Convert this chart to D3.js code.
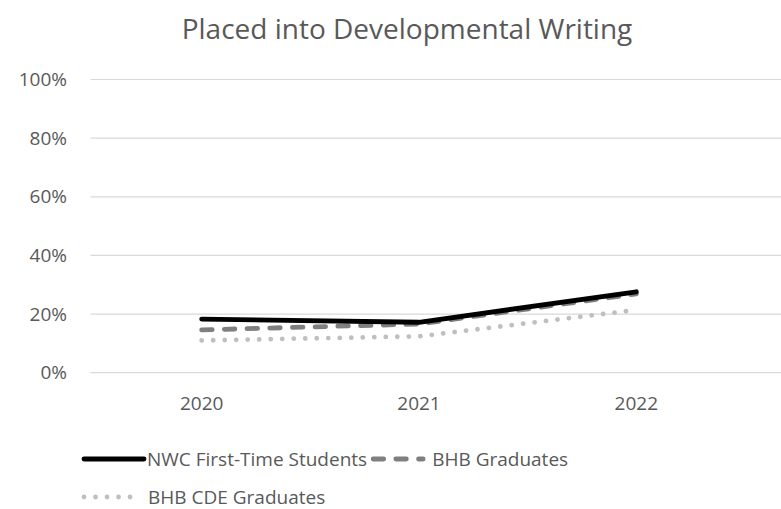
<!DOCTYPE html>
<html>
<head>
<meta charset="utf-8">
<script src="https://cdn.jsdelivr.net/npm/d3@7"></script>
<style>
  html, body { margin: 0; padding: 0; background: #fff; }
  svg { display: block; font-family: "Open Sans", sans-serif; }
</style>
</head>
<body>
<svg id="chart" width="781" height="509"></svg>
<script>
// Chart data
const years = ["2020", "2021", "2022"];
const nwcFirstTime = [0.183, 0.172, 0.276];
const bhbGraduates = [0.146, 0.166, 0.269];
const bhbCdeGraduates = [0.110, 0.124, 0.214];
const yTicks = [0, 0.2, 0.4, 0.6, 0.8, 1.0];
const seriesNames = ["NWC First-Time Students", "BHB Graduates", "BHB CDE Graduates"];
const title = "Placed into Developmental Writing";

const textColor = "#595959";
const styles = [
  { color: "#000000", dash: null },
  { color: "#7f7f7f", dash: "10.5,12.2" },
  { color: "#bfbfbf", dash: "0.01,11.5" }
];
const series = [nwcFirstTime, bhbGraduates, bhbCdeGraduates];

const svg = d3.select("#chart");
const W = 781;

const x = d3.scaleBand().domain(years).range([93, 745]);
const xc = d => x(d) + x.bandwidth() / 2;
const y = d3.scaleLinear().domain([0, 1]).range([372.7, 79.5]);

// Title
svg.append("text")
  .attr("x", 407).attr("y", 39)
  .attr("text-anchor", "middle")
  .attr("fill", textColor)
  .style("font-size", "28px")
  .text(title);

// Gridlines
svg.append("g").selectAll("line")
  .data(yTicks)
  .join("line")
  .attr("x1", 90.5).attr("x2", W)
  .attr("y1", d => y(d)).attr("y2", d => y(d))
  .attr("stroke", "#d9d9d9")
  .attr("stroke-width", 1.2);

// Y axis labels
svg.append("g").selectAll("text")
  .data(yTicks)
  .join("text")
  .attr("x", 67)
  .attr("y", d => y(d))
  .attr("dy", "0.35em")
  .attr("text-anchor", "end")
  .attr("fill", textColor)
  .style("font-size", "19px")
  .text(d3.format(".0%"));

// X axis labels
svg.append("g").selectAll("text")
  .data(years)
  .join("text")
  .attr("x", xc)
  .attr("y", 403)
  .attr("dy", "0.35em")
  .attr("text-anchor", "middle")
  .attr("fill", textColor)
  .style("font-size", "19px")
  .text(d => d);

// Lines (lightest drawn first so the black line sits on top)
const line = d3.line().x((d, i) => xc(years[i])).y(d => y(d));
const order = [2, 1, 0];
svg.append("g").selectAll("path")
  .data(order)
  .join("path")
  .attr("d", k => line(series[k]))
  .attr("fill", "none")
  .attr("stroke", k => styles[k].color)
  .attr("stroke-width", 4.8)
  .attr("stroke-dasharray", k => styles[k].dash)
  .attr("stroke-linecap", "round")
  .attr("stroke-linejoin", "round");

// Legend
const legend = svg.append("g");
function legendItem(k, x0, yy, sampleLen, gap) {
  legend.append("line")
    .attr("x1", x0).attr("x2", x0 + sampleLen)
    .attr("y1", yy).attr("y2", yy)
    .attr("stroke", styles[k].color)
    .attr("stroke-width", 4.8)
    .attr("stroke-dasharray", styles[k].dash)
    .attr("stroke-linecap", "round");
  const t = legend.append("text")
    .attr("x", x0 + sampleLen + gap)
    .attr("y", yy)
    .attr("dy", "0.35em")
    .attr("fill", textColor)
    .style("font-size", "19px")
    .text(seriesNames[k]);
  return x0 + sampleLen + gap + t.node().getComputedTextLength();
}
const end0 = legendItem(0, 84, 459, 60, 3);
legendItem(1, end0 + 6, 459, 50, 9);
legendItem(2, 84, 497, 55, 9);
</script>
</body>
</html>
